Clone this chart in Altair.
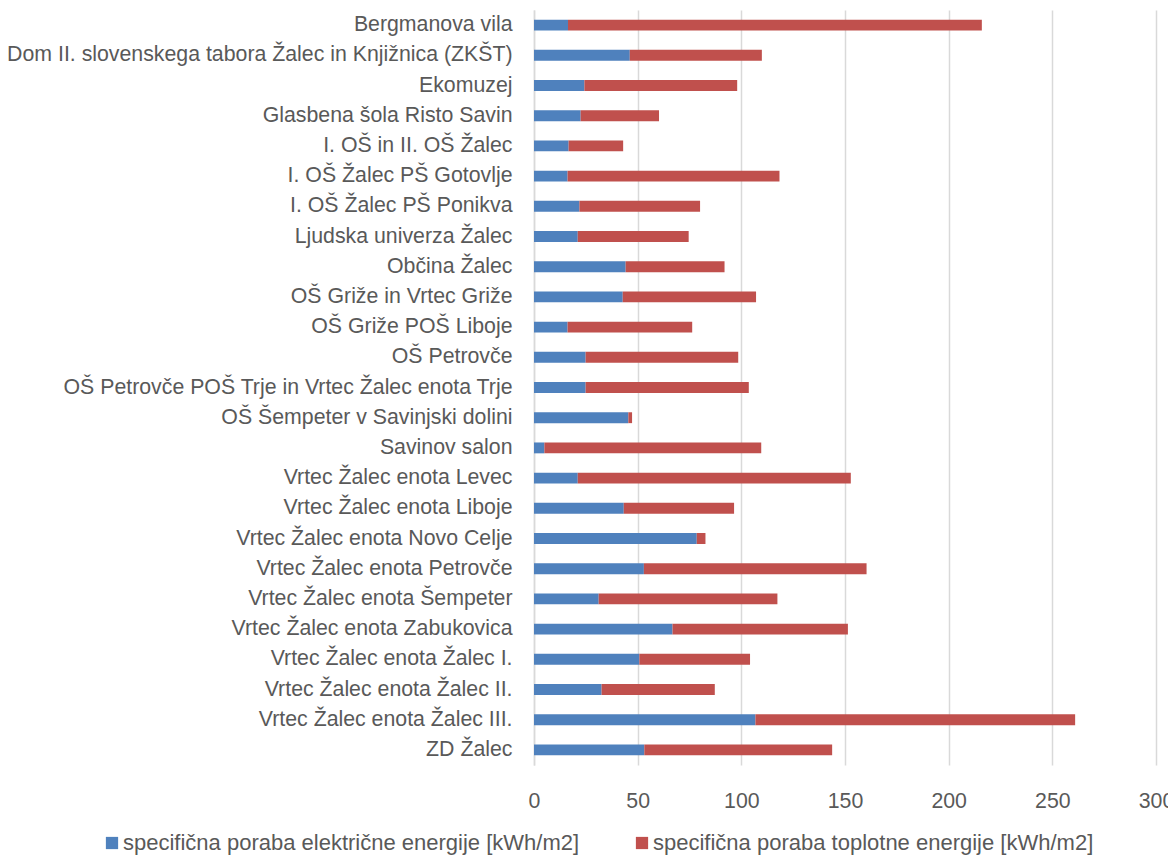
import altair as alt
import pandas as pd

categories = [
    "Bergmanova vila",
    "Dom II. slovenskega tabora Žalec in Knjižnica (ZKŠT)",
    "Ekomuzej",
    "Glasbena šola Risto Savin",
    "I. OŠ in II. OŠ Žalec",
    "I. OŠ Žalec PŠ Gotovlje",
    "I. OŠ Žalec PŠ Ponikva",
    "Ljudska univerza Žalec",
    "Občina Žalec",
    "OŠ Griže in Vrtec Griže",
    "OŠ Griže POŠ Liboje",
    "OŠ Petrovče",
    "OŠ Petrovče POŠ Trje in Vrtec Žalec enota Trje",
    "OŠ Šempeter v Savinjski dolini",
    "Savinov salon",
    "Vrtec Žalec enota Levec",
    "Vrtec Žalec enota Liboje",
    "Vrtec Žalec enota Novo Celje",
    "Vrtec Žalec enota Petrovče",
    "Vrtec Žalec enota Šempeter",
    "Vrtec Žalec enota Zabukovica",
    "Vrtec Žalec enota Žalec I.",
    "Vrtec Žalec enota Žalec II.",
    "Vrtec Žalec enota Žalec III.",
    "ZD Žalec",
]

electric = [16.4, 46.2, 24.3, 22.5, 16.7, 16.2, 21.9, 21.1, 44.2, 42.8,
            16.2, 24.9, 24.9, 45.5, 5.0, 21.1, 43.3, 78.5, 53.0, 31.2,
            66.8, 50.8, 32.6, 106.8, 53.2]

thermal = [199.6, 63.7, 73.7, 37.8, 26.3, 102.2, 58.2, 53.5, 47.7, 64.3,
           60.1, 73.6, 78.7, 1.8, 104.6, 131.7, 53.2, 4.2, 107.4, 86.2,
           84.6, 53.4, 54.6, 154.2, 90.6]

series = [
    "specifična poraba električne energije [kWh/m2]",
    "specifična poraba toplotne energije [kWh/m2]",
]
colors = ["#4F81BD", "#C0504D"]
x_ticks = [0, 50, 100, 150, 200, 250, 300]

rows = []
for c, e, t in zip(categories, electric, thermal):
    rows.append({"cat": c, "series": series[0], "value": e, "ord": 0})
    rows.append({"cat": c, "series": series[1], "value": t, "ord": 1})
df = pd.DataFrame(rows)

FONT = "Liberation Sans"
TXT = "#595959"

chart = alt.Chart(df).mark_bar().encode(
    y=alt.Y("cat:N", sort=categories, title=None,
            scale=alt.Scale(paddingInner=0.64, paddingOuter=0.32),
            axis=alt.Axis(labelFont=FONT, labelFontSize=21.3, labelColor=TXT,
                          ticks=False, domain=True, domainColor="#D9D9D9",
                          domainWidth=1.5, labelPadding=22, labelLimit=600,
                          grid=False)),
    x=alt.X("value:Q", stack="zero", title=None,
            scale=alt.Scale(domain=[0, 300], nice=False),
            axis=alt.Axis(values=x_ticks, labelFlush=False,
                          labelFont=FONT, labelFontSize=21.3, labelColor=TXT,
                          ticks=False, domain=False, grid=True,
                          gridColor="#D9D9D9", gridWidth=1.5,
                          labelPadding=25)),
    color=alt.Color("series:N", sort=series,
                    scale=alt.Scale(domain=series, range=colors),
                    legend=alt.Legend(title=None, orient="none",
                                      direction="horizontal",
                                      legendX=-433, legendY=822,
                                      symbolType="square", symbolSize=150,
                                      symbolStrokeWidth=0,
                                      labelFont=FONT, labelFontSize=22,
                                      labelColor=TXT, labelLimit=700,
                                      columnPadding=51, labelOffset=0)),
    order=alt.Order("ord:Q"),
).properties(
    width=622, height=755,
    autosize=alt.AutoSizeParams(type="none"),
    padding={"left": 526, "top": 2, "right": 12, "bottom": 92},
).configure_view(stroke=None)

chart.save("out.html", embed_options={"renderer": "svg", "actions": False})
